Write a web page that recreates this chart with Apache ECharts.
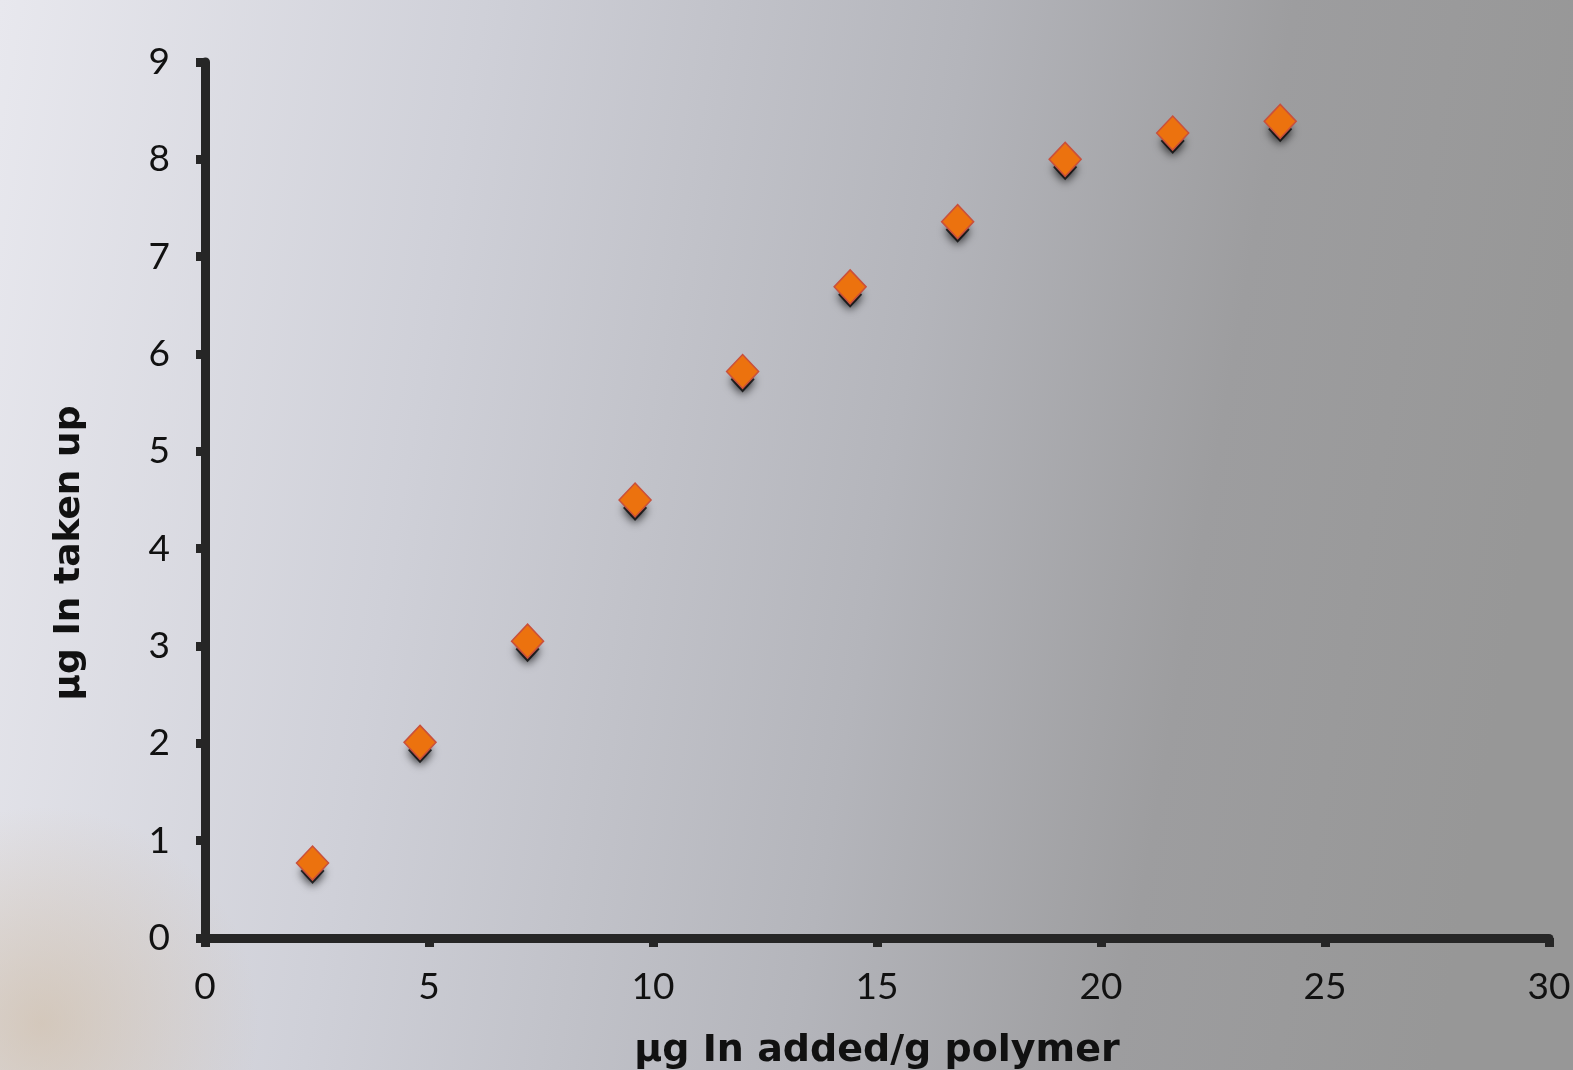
<!DOCTYPE html>
<html>
<head>
<meta charset="utf-8">
<script src="https://cdn.jsdelivr.net/npm/echarts@6/dist/echarts.min.js"></script>
<style>
  html, body { margin: 0; padding: 0; }
  #chart { width: 1573px; height: 1070px; }
</style>
</head>
<body>
<div id="chart"></div>
<script>
// µg In added per g polymer vs µg In taken up
var added = [2.4, 4.8, 7.2, 9.6, 12, 14.4, 16.8, 19.2, 21.6, 24];
var takenUp = [0.77, 2.01, 3.05, 4.5, 5.82, 6.69, 7.36, 8.0, 8.27, 8.39];
var xTitle = 'µg In added/g polymer';
var yTitle = 'µg In taken up';

var points = [];
for (var i = 0; i < added.length; i++) {
	points.push([added[i], takenUp[i]]);
}

var chart = echarts.init(document.getElementById('chart'));

var labelFont = 'Lato, "DejaVu Sans", sans-serif';
var titleFont = '"DejaVu Sans", sans-serif';

function axisStyle(margin) {
	return {
		axisLine: { show: true, onZero: false, lineStyle: { color: '#262626', width: 9 } },
		axisTick: { show: true, length: 9, lineStyle: { color: '#262626', width: 9 } },
		splitLine: { show: false },
		axisLabel: { color: '#111', fontSize: 37, fontFamily: labelFont, fontWeight: 'normal', margin: margin }
	};
}

chart.setOption({
	backgroundColor: {
		type: 'linear', x: 0, y: 0, x2: 1, y2: 0.25,
		colorStops: [
			{ offset: 0, color: '#e8e8ee' },
			{ offset: 0.3, color: '#cfd0d8' },
			{ offset: 0.6, color: '#b4b5bb' },
			{ offset: 0.8, color: '#9d9d9f' },
			{ offset: 1, color: '#979797' }
		]
	},
	animation: false,
	graphic: [
		{
			type: 'rect', z: -10, silent: true,
			shape: { x: 0, y: 760, width: 420, height: 310 },
			style: {
				fill: {
					type: 'radial', x: 0.1, y: 0.85, r: 0.7,
					colorStops: [
						{ offset: 0, color: 'rgba(205,185,160,0.6)' },
						{ offset: 1, color: 'rgba(205,185,160,0)' }
					]
				}
			}
		},
		{
			type: 'text', silent: true,
			rotation: Math.PI / 2,
			x: 70, y: 553,
			style: {
				text: yTitle, fill: '#111', fontSize: 36, fontWeight: 'bold', fontFamily: titleFont,
				align: 'center', verticalAlign: 'middle'
			}
		}
	],
	grid: { left: 205, right: 24, top: 62, bottom: 132, containLabel: false, outerBoundsMode: 'none' },
	xAxis: Object.assign({
		type: 'value', min: 0, max: 30, interval: 5,
		name: xTitle, nameLocation: 'middle', nameGap: 94,
		nameTextStyle: { color: '#111', fontSize: 38, fontWeight: 'bold', fontFamily: titleFont }
	}, axisStyle(31)),
	yAxis: Object.assign({
		type: 'value', min: 0, max: 9, interval: 1
	}, axisStyle(35)),
	series: [
		{
			// soft drop shadow below each marker
			type: 'scatter',
			data: points,
			symbol: 'diamond',
			symbolSize: [24, 26],
			symbolOffset: [0, 8],
			silent: true,
			z: 1,
			itemStyle: {
				opacity: 1,
				color: 'rgba(10,10,10,0.8)',
				shadowColor: 'rgba(0,0,0,1)',
				shadowBlur: 10,
				shadowOffsetY: 2
			}
		},
		{
			type: 'scatter',
			data: points,
			symbol: 'diamond',
			symbolSize: [32, 34],
			z: 3,
			itemStyle: {
				opacity: 1,
				color: '#ec720e',
				borderColor: '#c9503c',
				borderWidth: 1.5
			}
		}
	]
});
</script>
</body>
</html>
